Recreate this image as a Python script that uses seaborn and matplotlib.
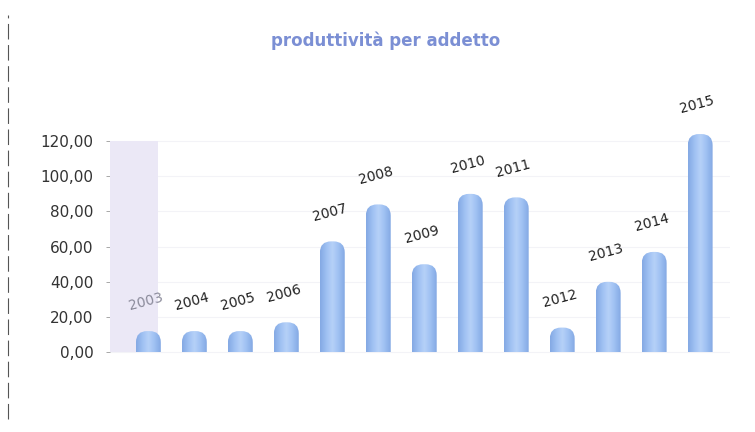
import numpy as np
import pandas as pd
import matplotlib
matplotlib.use("Agg")
import matplotlib.pyplot as plt
import seaborn as sns
from matplotlib.patches import FancyBboxPatch, Rectangle
from matplotlib.lines import Line2D
from matplotlib.colors import LinearSegmentedColormap

# Productivity per employee, by year
anni = ["2003", "2004", "2005", "2006", "2007", "2008", "2009",
        "2010", "2011", "2012", "2013", "2014", "2015"]
valori = [12, 12, 12, 17, 63, 84, 50, 90, 88, 14, 40, 57, 124]
tick_valori = [0, 20, 40, 60, 80, 100, 120]
tick_etichette = ["0,00", "20,00", "40,00", "60,00", "80,00", "100,00", "120,00"]

sns.set_theme(style="white")
plt.rcParams["font.family"] = ["DejaVu Sans"]

W, H = 7.55, 4.32
fig = plt.figure(figsize=(W, H), dpi=100)
ax_rect = [0.146, 0.144, 0.821, 0.562]
ax = fig.add_axes(ax_rect)

df = pd.DataFrame({"anno": anni, "valore": valori})
sns.barplot(data=df, x="anno", y="valore", color="#9bbdf0", width=0.54,
            ax=ax, zorder=3)

xlim = (-0.83, 12.65)
ylim = (-10, 128)
ax.set_xlim(*xlim)
ax.set_ylim(*ylim)

# data units per pixel, used to keep the rounded tops circular on screen
x_per_px = (xlim[1] - xlim[0]) / (ax_rect[2] * W * 100)
y_per_px = (ylim[1] - ylim[0]) / (ax_rect[3] * H * 100)
aspect = y_per_px / x_per_px

cyl = LinearSegmentedColormap.from_list(
    "cyl", ["#84a9e4", "#9ec0f2", "#b6d1f8", "#9ec0f2", "#84a9e4"])
grad = np.linspace(0, 1, 64).reshape(1, -1)

for p in list(ax.patches):
    x0, w, h = p.get_x(), p.get_width(), p.get_height()
    p.set_visible(False)
    r = w * 0.45
    shape = FancyBboxPatch((x0, -r * aspect), w, h + r * aspect,
                           boxstyle=f"round,pad=0,rounding_size={r}",
                           mutation_aspect=aspect,
                           facecolor="none", edgecolor="none", zorder=3)
    ax.add_patch(shape)
    img = ax.imshow(grad, cmap=cyl, extent=(x0, x0 + w, 0, h),
                    aspect="auto", zorder=3, interpolation="bilinear")
    img.set_clip_path(shape)

ax.set_xlim(*xlim)
ax.set_ylim(*ylim)

# shaded column behind the first year
ax.add_patch(Rectangle((xlim[0], 0), 1.03, 120, facecolor="#ebe8f6",
                       edgecolor="none", zorder=1))

# year labels above each bar
for i, (a, v) in enumerate(zip(anni, valori)):
    ax.annotate(a, xy=(i, v), xytext=(-2, 21), textcoords="offset points",
                rotation=15, ha="center", va="center", fontsize=10,
                color="#8a8a9a" if i == 0 else "#222222", zorder=5,
                annotation_clip=False)

ax.set_yticks(tick_valori)
ax.set_yticklabels(tick_etichette, fontsize=11, color="#333333")
ax.tick_params(axis="y", length=3, width=0.6, color="#9a9a9a", pad=9, left=True)
ax.set_xticks([])
ax.set_xlabel("")
ax.set_ylabel("")
ax.yaxis.grid(True, color="#f3f3f7", lw=0.8, zorder=0)
ax.set_axisbelow(True)
for s in ax.spines.values():
    s.set_visible(False)

fig.text(0.511, 0.905, "produttività per addetto", ha="center", va="center",
         fontsize=12, fontweight="bold", color="#7b8fd4")

# chart frame edge on the left
fig.add_artist(Line2D([0.011, 0.011], [0.03, 0.965], color="#555555", lw=0.8,
                      linestyle=(0, (14, 5))))

fig.savefig("out.png", dpi=100, facecolor="white")
